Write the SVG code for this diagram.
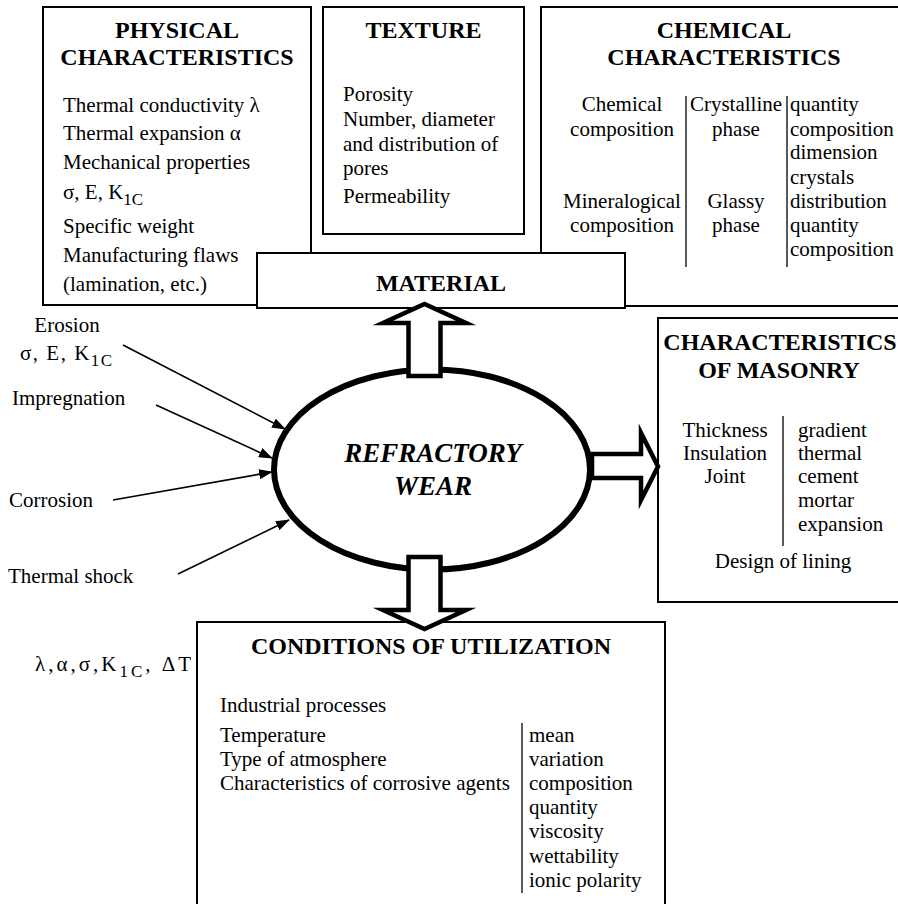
<svg xmlns="http://www.w3.org/2000/svg" width="898" height="904" viewBox="0 0 898 904" font-family="'Liberation Serif', 'Times New Roman', serif">
<defs>
<style>
text{font-family:"Liberation Serif","Times New Roman",serif;fill:#000}
.t{font-size:21px}
.h{font-size:24px;font-weight:bold}
.c{text-anchor:middle}
.sub{font-size:17px}
.box{fill:#fff;stroke:#000;stroke-width:2}
.div{stroke:#000;stroke-width:1.3;fill:none}
.thin{stroke:#000;stroke-width:1.6;fill:none}
.blk{fill:#fff;stroke:#000;stroke-width:4.5;stroke-linejoin:miter;stroke-miterlimit:10}
</style>
<marker id="ah" viewBox="0 0 14 10" refX="13" refY="5" markerWidth="14" markerHeight="10" markerUnits="userSpaceOnUse" orient="auto">
<path d="M0,0 L14,5 L0,10 Z" fill="#000"/>
</marker>
</defs>
<rect width="898" height="904" fill="#fff"/>

<g id="physical">
<rect class="box" x="43" y="7" width="268" height="298"/>
<text class="h c" x="177" y="38">PHYSICAL</text>
<text class="h c" x="177" y="65">CHARACTERISTICS</text>
<text class="t" x="63" y="112">Thermal conductivity λ</text>
<text class="t" x="63" y="140">Thermal expansion α</text>
<text class="t" x="63" y="169">Mechanical properties</text>
<text class="t" x="63" y="199">σ, E, K<tspan class="sub" dy="6">1C</tspan></text>
<text class="t" x="63" y="233">Specific weight</text>
<text class="t" x="63" y="262">Manufacturing flaws</text>
<text class="t" x="63" y="291">(lamination, etc.)</text>
</g>

<g id="texture">
<rect class="box" x="323" y="7" width="201" height="227"/>
<text class="h c" x="423.5" y="38">TEXTURE</text>
<text class="t" x="343" y="101">Porosity</text>
<text class="t" x="343" y="126">Number, diameter</text>
<text class="t" x="343" y="151">and distribution of</text>
<text class="t" x="343" y="175">pores</text>
<text class="t" x="343" y="203">Permeability</text>
</g>

<g id="chemical">
<rect class="box" x="541" y="7" width="370" height="299"/>
<text class="h c" x="724" y="38">CHEMICAL</text>
<text class="h c" x="724" y="65">CHARACTERISTICS</text>
<line class="div" x1="686" y1="96" x2="686" y2="267"/>
<line class="div" x1="787" y1="96" x2="787" y2="267"/>
<text class="t c" x="622" y="111">Chemical</text>
<text class="t c" x="622" y="136">composition</text>
<text class="t c" x="622" y="208">Mineralogical</text>
<text class="t c" x="622" y="232">composition</text>
<text class="t c" x="736" y="111">Crystalline</text>
<text class="t c" x="736" y="136">phase</text>
<text class="t c" x="736" y="208">Glassy</text>
<text class="t c" x="736" y="232">phase</text>
<text class="t" x="790" y="111">quantity</text>
<text class="t" x="790" y="136">composition</text>
<text class="t" x="790" y="159">dimension</text>
<text class="t" x="790" y="184">crystals</text>
<text class="t" x="790" y="208">distribution</text>
<text class="t" x="790" y="232">quantity</text>
<text class="t" x="790" y="256">composition</text>
</g>

<g id="material">
<rect class="box" x="257" y="253" width="368" height="55"/>
<text class="h c" x="441" y="291">MATERIAL</text>
</g>

<g id="masonry">
<rect class="box" x="658" y="318" width="260" height="284"/>
<text class="h c" x="780" y="350">CHARACTERISTICS</text>
<text class="h c" x="779" y="378">OF MASONRY</text>
<line class="div" x1="783" y1="416" x2="783" y2="546"/>
<text class="t c" x="725" y="437">Thickness</text>
<text class="t c" x="725" y="460">Insulation</text>
<text class="t c" x="725" y="483">Joint</text>
<text class="t" x="798" y="437">gradient</text>
<text class="t" x="798" y="460">thermal</text>
<text class="t" x="798" y="483">cement</text>
<text class="t" x="798" y="507">mortar</text>
<text class="t" x="798" y="531">expansion</text>
<text class="t c" x="783" y="568">Design of lining</text>
</g>

<g id="conditions">
<rect class="box" x="197" y="622" width="468" height="300"/>
<text class="h c" x="431" y="654">CONDITIONS OF UTILIZATION</text>
<text class="t" x="220" y="712">Industrial processes</text>
<text class="t" x="220" y="742">Temperature</text>
<text class="t" x="220" y="766">Type of atmosphere</text>
<text class="t" x="220" y="790">Characteristics of corrosive agents</text>
<line class="div" x1="522" y1="723" x2="522" y2="893"/>
<text class="t" x="529" y="742">mean</text>
<text class="t" x="529" y="766">variation</text>
<text class="t" x="529" y="790">composition</text>
<text class="t" x="529" y="814">quantity</text>
<text class="t" x="529" y="838">viscosity</text>
<text class="t" x="529" y="863">wettability</text>
<text class="t" x="529" y="887">ionic polarity</text>
</g>

<g id="wear">
<ellipse cx="432" cy="469.5" rx="158" ry="100" fill="#fff" stroke="#000" stroke-width="6"/>
<text x="433" y="462" class="c" style="font-size:27px;font-weight:bold;font-style:italic">REFRACTORY</text>
<text x="433" y="495" class="c" style="font-size:27px;font-weight:bold;font-style:italic">WEAR</text>
</g>

<g id="factors">
<text class="t c" x="67" y="332">Erosion</text>
<text class="t" x="20" y="360" letter-spacing="1.5">σ, E, K<tspan class="sub" dy="6">1C</tspan></text>
<text class="t" x="12" y="405">Impregnation</text>
<text class="t" x="9" y="507">Corrosion</text>
<text class="t" x="8" y="583">Thermal shock</text>
<text class="t" x="35" y="671" letter-spacing="3">λ,α,σ,K<tspan class="sub" dy="6">1C</tspan><tspan dy="-6">, ΔT</tspan></text>
</g>

<g id="connectors">
<line class="thin" x1="123" y1="345" x2="285" y2="429" marker-end="url(#ah)"/>
<line class="thin" x1="156" y1="405" x2="272" y2="458" marker-end="url(#ah)"/>
<line class="thin" x1="113" y1="500" x2="272" y2="472" marker-end="url(#ah)"/>
<line class="thin" x1="178" y1="574" x2="289" y2="520" marker-end="url(#ah)"/>
<polygon class="blk" points="408.5,376 408.5,323 383,323 424.5,304 466,323 440.5,323 440.5,376"/>
<polygon class="blk" points="408.5,557 408.5,610 383,610 424.5,629 466,610 440.5,610 440.5,557"/>
<polygon class="blk" points="592,454 641,454 641,433 658,466.5 641,500 641,478 592,478"/>
</g>
</svg>
